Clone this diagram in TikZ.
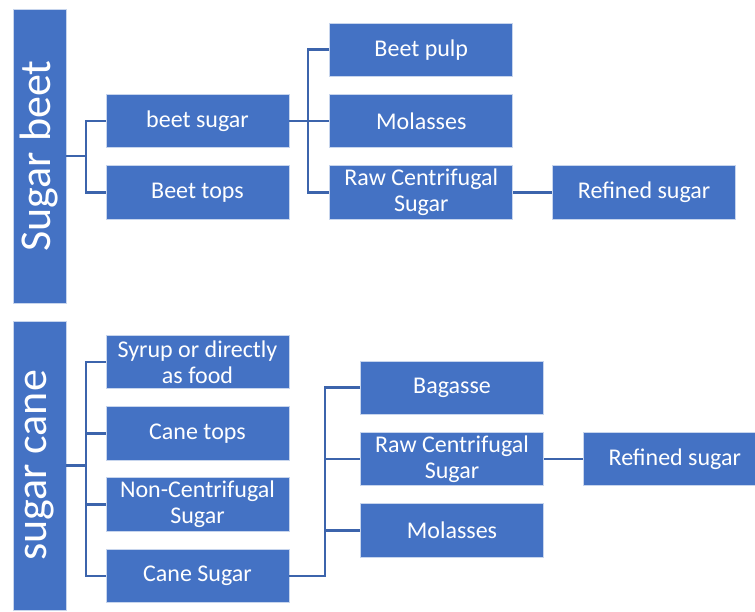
\documentclass[tikz,border=0pt]{standalone}
\usepackage{fontspec}
\setmainfont{Carlito}
\usetikzlibrary{positioning}
\definecolor{boxblue}{HTML}{4472C4}
\definecolor{lineblue}{HTML}{3C64AC}

\begin{document}
\begin{tikzpicture}[x=1pt,y=-1pt,node distance=17pt,
  item/.style={rectangle,fill=boxblue,draw=white!70!boxblue,line width=0.8pt,text=white,minimum width=183pt,minimum height=53.5pt,inner sep=0pt,align=center,font=\fontsize{24}{26}\selectfont},
  root/.style={item,rotate=90,minimum height=53pt,font=\fontsize{44}{48}\selectfont},
  conn/.style={draw=lineblue,line width=2.8pt}]

  \useasboundingbox (0,0) rectangle (755,612);

  \node[root,minimum width=294pt] (beet) at (39.5,156) {Sugar beet};
  \node[item] (bsug) at (197.5,121) {beet sugar};
  \node[item] (btop) [below =of bsug] {Beet tops};
  \node[item] (mol1) [right =40pt of bsug] {Molasses};
  \node[item] (pulp) [above =of mol1] {Beet pulp};
  \node[item] (raw1) [below =of mol1] {Raw Centrifugal\\Sugar};
  \node[item] (ref1) [right =39pt of raw1] {Refined sugar};

  \node[root,minimum width=289pt] (cane) at (39.5,465.5) {sugar cane};
  \node[item] (syr) at (197.5,362) {Syrup or directly\\as food};
  \node[item] (ctop) [below =of syr] {Cane tops};
  \node[item] (nonc) [below =of ctop] {Non-Centrifugal\\Sugar};
  \node[item] (csug) [below =of nonc] {Cane Sugar};
  \node[item] (raw2) at (452,459) {Raw Centrifugal\\Sugar};
  \node[item] (bag) [above =of raw2] {Bagasse};
  \node[item] (mol2) [below =of raw2] {Molasses};
  \node[item] (ref2) [right =39pt of raw2] {Refined sugar};

  \coordinate (j1) at (86,156);
  \coordinate (j2) at (308,121);
  \coordinate (j3) at (86,465.5);
  \coordinate (j4) at (325,459);

  \path[conn]
    (beet.south) -- (beet.south -| j1)
    (bsug.west) -| (j1) |- (btop.west)
    (bsug.east) -- (j2)
    (pulp.west) -| (j2) |- (raw1.west)
    (j2) -- (mol1.west)
    (raw1.east) -- (ref1.west);
  \path[conn]
    (cane.south) -- (cane.south -| j3)
    (syr.west) -| (j3) |- (csug.west)
    (ctop.west) -- (ctop.west -| j3)
    (nonc.west) -- (nonc.west -| j3)
    (csug.east) -| (j4)
    (bag.west) -| (j4) -- (raw2.west)
    (mol2.west) -- (mol2.west -| j4)
    (raw2.east) -- (ref2.west);

\end{tikzpicture}
\end{document}
